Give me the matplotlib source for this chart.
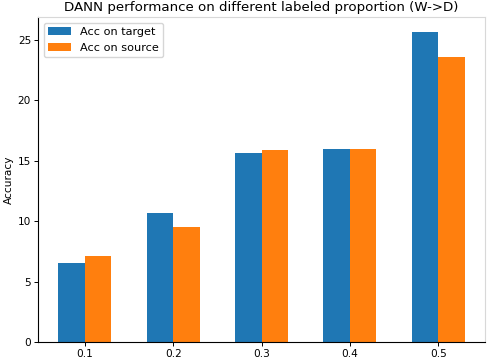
import matplotlib
matplotlib.use("Agg")
import matplotlib.pyplot as plt
import numpy as np

# Anteil gelabelter Zieldaten und Genauigkeiten
proportions = ["0.1", "0.2", "0.3", "0.4", "0.5"]
acc_target = [6.5, 10.66, 15.65, 16.0, 25.6]
acc_source = [7.08, 9.5, 15.9, 16.0, 23.55]

plt.rcParams["font.family"] = "DejaVu Sans"
plt.rcParams["font.size"] = 7.6

fig = plt.figure(figsize=(4.9, 3.58), dpi=100)
ax = fig.add_axes([0.0776, 0.0447, 0.9124, 0.9078])

x = np.arange(len(proportions))
width = 0.3
ax.bar(x - width / 2, acc_target, width, color="#1f77b4", label="Acc on target")
ax.bar(x + width / 2, acc_source, width, color="#ff7f0e", label="Acc on source")

ax.set_xticks(x)
ax.set_xticklabels(proportions)
ax.set_yticks([0, 5, 10, 15, 20, 25])
ax.set_ylabel("Accuracy", labelpad=3)
ax.set_title("DANN performance on different labeled proportion (W->D)",
             fontsize=9.6, pad=4)
ax.legend(loc="upper left", fontsize=8.1)

for side in ["top", "right"]:
    ax.spines[side].set_color("#d8d8d8")
ax.tick_params(length=3, width=0.7, pad=2)

fig.savefig("out.png", dpi=100)
